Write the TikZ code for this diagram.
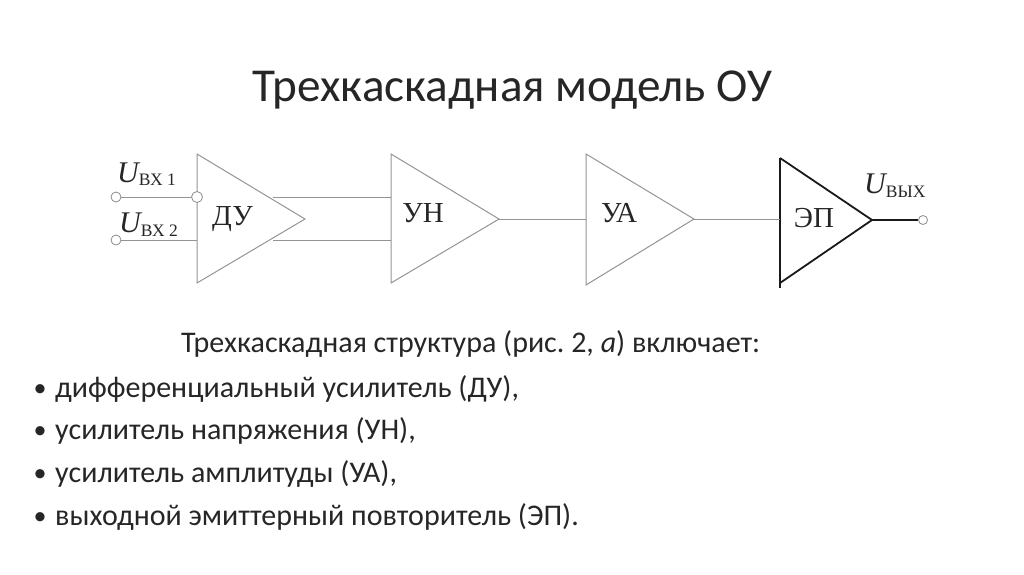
\documentclass[tikz,border=0pt]{standalone}
\usepackage{fontspec}
\setmainfont{Carlito}
\newfontfamily\serifcyr{Liberation Serif}
\newcommand{\bigu}{\raisebox{3.5pt}{\fontsize{30}{30}\selectfont\itshape U}}
\tikzset{
    thin line/.style={draw=black!42, line width=1pt},
    thick line/.style={draw=black!90, line width=1.8pt},
    pin/.style={circle, draw=black!45, fill=white, line width=0.8pt, inner sep=0pt},
    stage/.style={font=\serifcyr\fontsize{29}{29}\selectfont, text=black!85, inner sep=0pt, anchor=base},
    sig/.style={font=\serifcyr\fontsize{17.5}{18}\selectfont, text=black!85, inner sep=0pt, anchor=base west},
    textline/.style={font=\fontsize{30}{34}\selectfont, text=black!85, inner sep=0pt, anchor=base west},
    dot/.style={font=\fontsize{26}{30}\selectfont, text=black!85, inner sep=0pt, anchor=base west},
}
\begin{document}
\frenchspacing
\begin{tikzpicture}[x=1pt, y=-1pt]
    \useasboundingbox (0,0) rectangle (1024,574);
    \node[font=\fontsize{47.2}{52}\selectfont, text=black!85, inner sep=0pt, anchor=base] (title) at (512.5,101) {Трехкаскадная модель ОУ};

    % triangles
    \coordinate (du1) at (197,154);
    \coordinate (du2) at (197,283);
    \coordinate (du3) at (305,219);
    \coordinate (un1) at (391,154);
    \coordinate (un2) at (391,283);
    \coordinate (un3) at (499,219);
    \coordinate (ua1) at (586,154);
    \coordinate (ua2) at (586,285);
    \coordinate (ua3) at (694,219);
    \coordinate (ep1) at (780,158);
    \coordinate (ep2) at (780,283);
    \coordinate (ep3) at (872,220);
    \coordinate (ep4) at (780,288);
    \draw[thin line] (du1) -- (du2) -- (du3) -- cycle;
    \draw[thin line] (un1) -- (un2) -- (un3) -- cycle;
    \draw[thin line] (ua1) -- (ua2) -- (ua3) -- cycle;
    \draw[thick line] (ep1) -- (ep4);
    \draw[thick line] (ep1) -- (ep3) -- (ep2);

    \node[stage] (dulabel) at (232.5,225) {ДУ};
    \node[stage] (unlabel) at (423,222) {УН};
    \node[stage] (ualabel) at (619,222) {УА};
    \node[stage] (eplabel) at (814,227) {ЭП};

    % pins
    \node[pin, minimum size=10pt] (in1) at (116,197) {};
    \node[pin, minimum size=10pt] (in2) at (116,240) {};
    \node[pin, minimum size=11pt] (in3) at (197,197) {};
    \node[pin, minimum size=9pt] (out) at (923,220) {};
    \coordinate (in4) at (197,240);
    \coordinate (du4) at (273,197);
    \coordinate (du5) at (273,240);
    \coordinate (un4) at (391,197);
    \coordinate (un5) at (391,240);

    \draw[thin line] (in1) -- (in3);
    \draw[thin line] (in2) -- (in4);
    \draw[thin line] (du4) -- (un4);
    \draw[thin line] (du5) -- (un5);
    \draw[thin line] (un3) -- (un3 -| ua1);
    \draw[thin line] (ua3) -- (ua3 -| ep1);
    \draw[thick line] (ep3) -- (out);

    % signal labels
    \node[sig] (u1) at (117,185.5) {\bigu ВХ 1};
    \node[sig] (u2) at (119,236) {\bigu ВХ 2};
    \node[sig] (u3) at (864,197) {\bigu ВЫХ};

    % text
    \node[textline] (head) at (181,352) {Трехкаскадная структура (рис. 2, \textit{а}) включает:};
    \node[dot] (b1) at (33.5,396) {•};
    \node[textline] (t1) at (55,397) {дифференциальный усилитель (ДУ),};
    \node[dot] (b2) at (33.5,438) {•};
    \node[textline] (t2) at (55,439) {усилитель напряжения (УН),};
    \node[dot] (b3) at (33.5,481) {•};
    \node[textline] (t3) at (55,482) {усилитель амплитуды (УА),};
    \node[dot] (b4) at (33.5,524) {•};
    \node[textline] (t4) at (55,525) {выходной эмиттерный повторитель (ЭП).};
\end{tikzpicture}
\end{document}
